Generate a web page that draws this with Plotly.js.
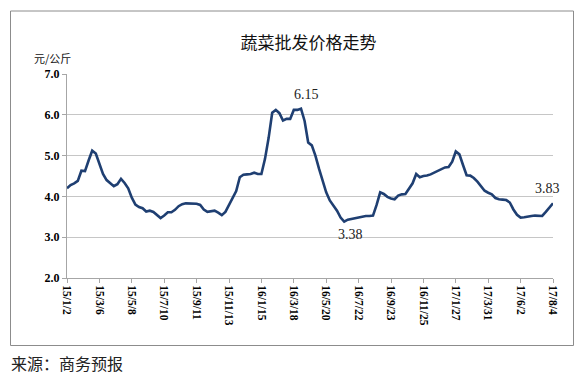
<!DOCTYPE html>
<html>
<head>
<meta charset="utf-8">
<script src="https://cdn.plot.ly/plotly-3.0.1.min.js"></script>
<style>
html,body{margin:0;padding:0;background:#fff;}
#chart{width:583px;height:378px;}
</style>
</head>
<body>
<div id="chart"></div>
<script>
// ---- data ----
const chartTitle = '蔬菜批发价格走势';
const unitLabel = '元/公斤';
const sourceText = '来源：商务预报';
const firstWeek = '2015-01-02';
const tickLabels = ['15/1/2','15/3/6','15/5/8','15/7/10','15/9/11','15/11/13','16/1/15','16/3/18',
                    '16/5/20','16/7/22','16/9/23','16/11/25','17/1/27','17/3/31','17/6/2','17/8/4'];
const yTicks = [2, 3, 4, 5, 6, 7];
const prices = [
  4.20,4.28,4.32,4.38,4.63,4.62,4.88,5.12,5.05,4.80,
  4.55,4.40,4.32,4.25,4.30,4.43,4.33,4.20,3.97,3.80,
  3.74,3.71,3.63,3.65,3.62,3.55,3.47,3.53,3.61,3.61,
  3.67,3.76,3.81,3.83,3.83,3.83,3.82,3.79,3.68,3.62,
  3.63,3.65,3.60,3.54,3.62,3.79,3.93,4.13,4.47,4.53,
  4.54,4.55,4.58,4.55,4.55,4.92,5.43,6.05,6.12,6.04,
  5.86,5.90,5.90,6.12,6.12,6.15,5.85,5.32,5.25,5.00,
  4.68,4.36,4.10,3.90,3.78,3.65,3.48,3.38,3.43,3.45,
  3.47,3.48,3.51,3.52,3.52,3.53,3.79,4.10,4.06,3.99,
  3.95,3.93,4.02,4.05,4.06,4.20,4.32,4.55,4.47,4.50,
  4.51,4.54,4.58,4.62,4.68,4.71,4.72,4.85,5.10,5.03,
  4.77,4.52,4.51,4.45,4.36,4.24,4.14,4.09,4.05,3.96,
  3.93,3.92,3.91,3.85,3.68,3.55,3.48,3.49,3.51,3.52,
  3.53,3.53,3.52,3.62,3.72,3.83
];
const labelledValues = [6.15, 3.38, 3.83];

// ---- week categories ----
function weekLabels(n){
  const out = [];
  const d = new Date(firstWeek + 'T00:00:00Z');
  for (let i = 0; i < n; i++) {
    out.push((d.getUTCFullYear() % 100) + '/' + (d.getUTCMonth() + 1) + '/' + d.getUTCDate());
    d.setUTCDate(d.getUTCDate() + 7);
  }
  return out;
}
const weeks = weekLabels(prices.length);

// ---- geometry ----
const W = 583, H = 378;
const M = {l: 67, r: 30, t: 74, b: 100};
const PW = W - M.l - M.r, PH = H - M.t - M.b;
const px = x => (x - M.l) / PW;
const py = y => (H - M.b - y) / PH;

const serif = 'Liberation Serif, Times New Roman, serif';
const cjk = 'Noto Sans CJK SC, sans-serif';

const annotations = [];
labelledValues.forEach((v, k) => {
  const idx = k === 2 ? prices.length - 1 : prices.indexOf(v);
  const below = k === 1;
  annotations.push({
    x: weeks[idx], y: prices[idx], xref: 'x', yref: 'y',
    text: v.toFixed(2), showarrow: false,
    yanchor: below ? 'top' : 'bottom',
    yshift: below ? -3 : 5, xshift: k === 0 ? 5 : (k === 1 ? 6 : -6),
    font: {family: serif, size: 14, color: '#222'}
  });
});
annotations.push({
  xref: 'paper', yref: 'paper', x: px(32), y: py(58), xanchor: 'left', yanchor: 'middle',
  text: unitLabel, showarrow: false, font: {family: cjk, size: 11, color: '#111'}
});
annotations.push({
  xref: 'paper', yref: 'paper', x: px(9), y: py(363), xanchor: 'left', yanchor: 'middle',
  text: sourceText, showarrow: false, font: {family: cjk, size: 16, color: '#222'}
});

const trace = {
  x: weeks, y: prices, type: 'scatter', mode: 'lines',
  line: {color: '#1f3f72', width: 2.6},
  hoverinfo: 'skip'
};

const layout = {
  width: W, height: H,
  margin: M,
  paper_bgcolor: '#fff', plot_bgcolor: '#fff',
  showlegend: false,
  title: {
    text: chartTitle, x: 0.497, xref: 'paper', xanchor: 'center',
    y: 1 - 43 / H, yref: 'container', yanchor: 'middle',
    font: {family: cjk, size: 17, color: '#111'}
  },
  xaxis: {
    type: 'category', range: [0, prices.length - 1],
    tickmode: 'array', tickvals: tickLabels, ticktext: tickLabels.map(t => '<b>' + t + '</b>'),
    tickangle: 90, ticks: 'outside', ticklen: 4, tickcolor: '#a6a6a6',
    showline: true, linecolor: '#a6a6a6', linewidth: 1,
    showgrid: false, zeroline: false, fixedrange: true,
    tickfont: {family: serif, size: 11.5, color: '#000'}
  },
  yaxis: {
    range: [2, 7], tickmode: 'array', tickvals: yTicks,
    ticktext: yTicks.map(v => '<b>' + v.toFixed(1) + '</b>'),
    ticks: 'outside', ticklen: 4, tickcolor: '#a6a6a6',
    showline: true, linecolor: '#a6a6a6', linewidth: 1,
    gridcolor: '#c6c6c6', gridwidth: 1, zeroline: false, fixedrange: true,
    tickfont: {family: serif, size: 12, color: '#000'}
  },
  shapes: [{
    type: 'rect', xref: 'paper', yref: 'paper',
    x0: px(10.5), x1: px(573.5), y0: py(11), y1: py(345.5),
    line: {color: '#8c8c8c', width: 1}, fillcolor: 'rgba(0,0,0,0)', layer: 'below'
  }],
  annotations: annotations
};

Plotly.newPlot('chart', [trace], layout, {staticPlot: true, displayModeBar: false});
</script>
</body>
</html>
